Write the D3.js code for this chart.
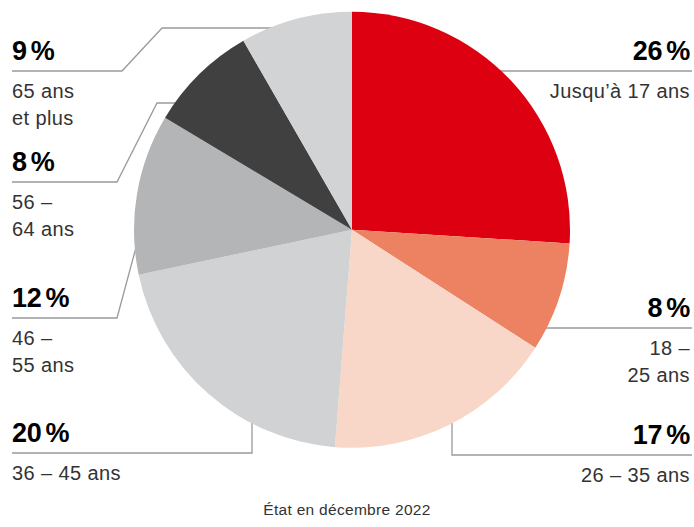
<!DOCTYPE html>
<html><head><meta charset="utf-8">
<script src="https://cdn.jsdelivr.net/npm/d3@7"></script>
<style>
html,body{margin:0;padding:0;background:#fff;}
svg{display:block;}
</style></head>
<body>
<script>
// ---- data ----
const categories = ["Jusqu’à 17 ans", "18 – 25 ans", "26 – 35 ans", "36 – 45 ans", "46 – 55 ans", "56 – 64 ans", "65 ans et plus"];
// slice sizes as drawn in the picture (%)
const sliceValues = [26.0, 8.1, 17.15, 20.45, 11.9, 8.1, 8.3];
// printed percentage labels
const percentLabels = [26, 8, 17, 20, 12, 8, 9];
const labelLines = [["Jusqu’à 17 ans"], ["18 –", "25 ans"], ["26 – 35 ans"], ["36 – 45 ans"], ["46 –", "55 ans"], ["56 –", "64 ans"], ["65 ans", "et plus"]];
const colors = ["#dc0011", "#ec8262", "#f8d7c9", "#d1d2d3", "#b4b5b7", "#404040", "#d1d3d4"];
const footnote = "État en décembre 2022";

// ---- layout ----
const W = 694, H = 527;
const cx = 352, cy = 229.8, R = 218;
const layout = [
  {side: "right", ruleY: 71,  pts: [[692,71],[500,71]]},
  {side: "right", ruleY: 328, pts: [[692,328],[540,328]]},
  {side: "right", ruleY: 455, pts: [[692,455],[452,455],[452,420]]},
  {side: "left",  ruleY: 453, pts: [[12,453],[252,453],[252,420]]},
  {side: "left",  ruleY: 318, pts: [[12,318],[117,318],[138,240]]},
  {side: "left",  ruleY: 182, pts: [[12,182],[117,182],[157,103],[185,103]]},
  {side: "left",  ruleY: 71,  pts: [[12,71],[122,71],[162,28],[280,28]]}
];

const svg = d3.select("body").append("svg").attr("width", W).attr("height", H);

// leader lines (under pie)
const line = d3.line();
svg.append("g").selectAll("path").data(layout).join("path")
  .attr("d", d => line(d.pts))
  .attr("fill", "none").attr("stroke", "#9a9a9a").attr("stroke-width", 1.3);

// pie
const pie = d3.pie().sort(null).value(d => d)(sliceValues);
const arc = d3.arc().innerRadius(0).outerRadius(R);
svg.append("g").attr("transform", `translate(${cx},${cy})`)
  .selectAll("path").data(pie).join("path")
  .attr("d", arc).attr("fill", (d, i) => colors[i]);

// labels
const lab = svg.append("g");
layout.forEach((L, i) => {
  const x = L.side === "right" ? 690 : 12;
  const anchor = L.side === "right" ? "end" : "start";
  const t = lab.append("text").attr("x", x).attr("y", L.ruleY - 11)
    .attr("text-anchor", anchor)
    .attr("font-family", "Liberation Sans, Arial, sans-serif")
    .attr("font-weight", "bold").attr("font-size", 27).attr("fill", "#000")
    .attr("letter-spacing", -0.3);
  t.append("tspan").text(percentLabels[i]);
  t.append("tspan").attr("dx", 4).text("%");
  labelLines[i].forEach((s, j) => {
    lab.append("text").attr("x", x).attr("y", L.ruleY + 27 + j * 27)
      .attr("text-anchor", anchor)
      .attr("font-family", "Liberation Sans, Arial, sans-serif")
      .attr("font-size", 20).attr("letter-spacing", 0.4).attr("fill", "#333")
      .text(s);
  });
});

// footnote
svg.append("text").attr("x", 347).attr("y", 515).attr("text-anchor", "middle")
  .attr("font-family", "Liberation Sans, Arial, sans-serif")
  .attr("font-size", 15.5).attr("letter-spacing", 0.3).attr("fill", "#333")
  .text(footnote);
</script>
</body></html>
